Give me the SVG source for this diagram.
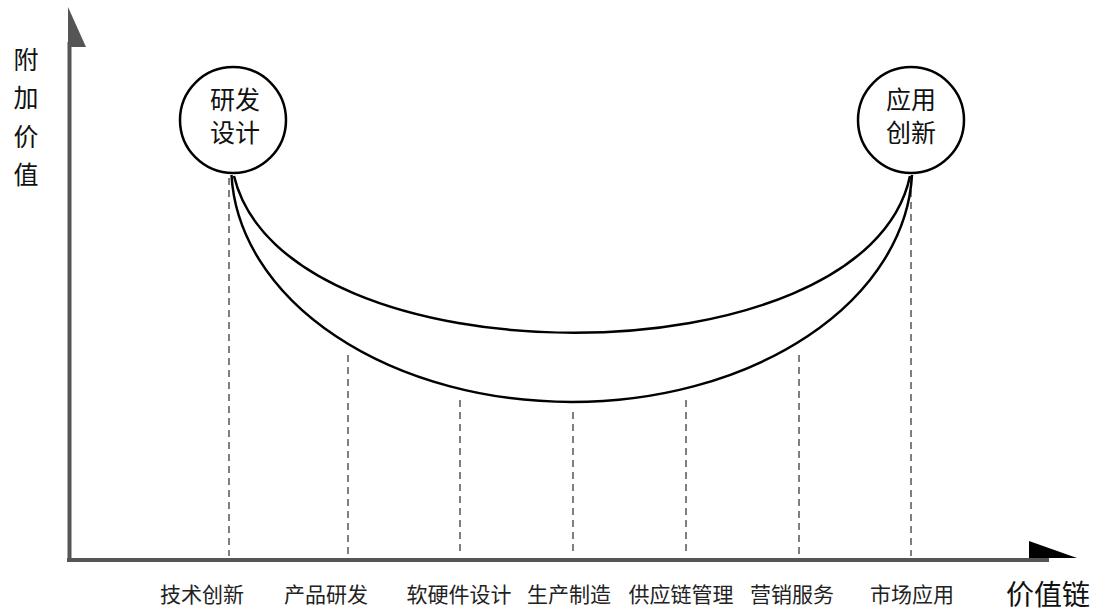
<svg xmlns="http://www.w3.org/2000/svg" width="1099" height="612" viewBox="0 0 1099 612">
<style>
.axis{stroke:#555;stroke-width:4;fill:none}
.curve{stroke:#000;stroke-width:2.5;fill:none}
.dash{stroke:#555;stroke-width:1.5;stroke-dasharray:7 5;fill:none}
.node{fill:#fff;stroke:#000;stroke-width:2.5}
text{font-family:"Noto Sans CJK SC","Noto Sans",sans-serif;fill:#111}
.lbl{font-size:21px;text-anchor:middle;fill:#222}
.ntxt{font-size:25px;text-anchor:middle}
</style>
<rect width="1099" height="612" fill="#fff"/>
<g id="axes">
<line class="axis" x1="69.5" y1="42" x2="69.5" y2="562"/>
<polygon points="68,7 86,47 68,47" fill="#555"/>
<line class="axis" x1="67" y1="560" x2="1049" y2="560"/>
<polygon points="1029,541 1077,558 1029,558" fill="#000"/>
</g>
<g id="connectors">
<line class="dash" x1="229" y1="178" x2="229" y2="556"/>
<line class="dash" x1="348" y1="355" x2="348" y2="556"/>
<line class="dash" x1="460" y1="400" x2="460" y2="556"/>
<line class="dash" x1="573" y1="412" x2="573" y2="556"/>
<line class="dash" x1="686" y1="400" x2="686" y2="556"/>
<line class="dash" x1="799" y1="355" x2="799" y2="556"/>
<line class="dash" x1="911" y1="178" x2="911" y2="556"/>
<path class="curve" d="M231.5,175 A340.5,236 0 0 0 912,175"/>
<path class="curve" d="M234,176 C284,385 866,385 910,176"/>
</g>
<g id="node-rd">
<circle class="node" cx="233" cy="120" r="53"/>
<text class="ntxt" x="235" y="109">研发</text>
<text class="ntxt" x="235" y="142">设计</text>
</g>
<g id="node-app">
<circle class="node" cx="911" cy="120" r="53"/>
<text class="ntxt" x="911" y="109">应用</text>
<text class="ntxt" x="911" y="142">创新</text>
</g>
<g id="y-label" style="font-size:25px" text-anchor="middle">
<text x="26" y="69">附</text>
<text x="26" y="107">加</text>
<text x="26" y="146">价</text>
<text x="26" y="184">值</text>
</g>
<g id="x-labels">
<text class="lbl" x="202" y="602">技术创新</text>
<text class="lbl" x="326" y="602">产品研发</text>
<text class="lbl" x="459" y="602">软硬件设计</text>
<text class="lbl" x="569" y="602">生产制造</text>
<text class="lbl" x="681" y="602">供应链管理</text>
<text class="lbl" x="792" y="602">营销服务</text>
<text class="lbl" x="912" y="602">市场应用</text>
<text x="1048" y="605" style="font-size:28px;text-anchor:middle">价值链</text>
</g>
</svg>
